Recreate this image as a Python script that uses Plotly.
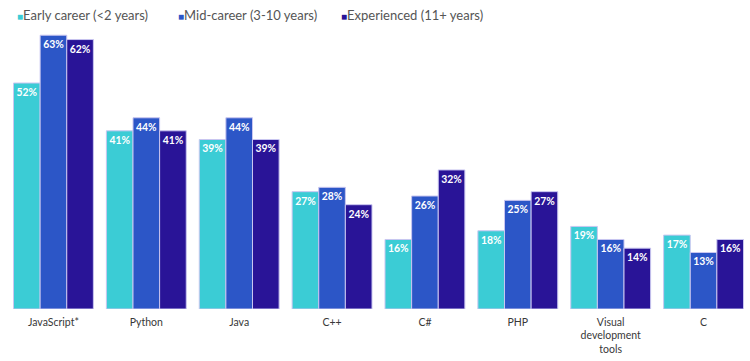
import plotly.graph_objects as go

categories = ["JavaScript*", "Python", "Java", "C++", "C#", "PHP", "Visual<br>development<br>tools", "C"]
early = [52, 41, 39, 27, 16, 18, 19, 17]
mid = [63, 44, 44, 28, 26, 25, 16, 13]
experienced = [62, 41, 39, 24, 32, 27, 14, 16]
series_names = ["Early career (<2 years)", "Mid-career (3-10 years)", "Experienced (11+ years)"]
colors = ["#3BCCD5", "#2C56C7", "#291497"]
legend_px = [15, 176, 339]

W, H = 750, 361
L, R = 7, 0

fig = go.Figure()
for name, vals, col in zip(series_names, [early, mid, experienced], colors):
    fig.add_trace(go.Bar(
        x=categories, y=vals, name=name,
        marker=dict(color=col, line=dict(color="#C9C6F0", width=1)),
        text=[f"{v}%" for v in vals], textposition="inside",
        insidetextanchor="end", textangle=0,
        textfont=dict(color="white", size=11.5, family="Lato", weight="bold"),
        cliponaxis=False,
        showlegend=False,
    ))

for name, col, px in zip(series_names, colors, legend_px):
    fig.add_annotation(
        xref="paper", yref="paper", x=(px - L) / (W - L - R), y=1.0,
        xanchor="left", yanchor="bottom", yshift=5, showarrow=False,
        text=f"<span style='color:{col};font-size:10px'>■</span>{name}",
        font=dict(family="Lato", size=13, color="#555555"),
    )

fig.update_layout(
    width=W, height=H,
    barmode="group", bargap=0.14, bargroupgap=0,
    margin=dict(l=L, r=R, t=30, b=52),
    plot_bgcolor="white", paper_bgcolor="white",
    font=dict(family="Lato", size=10.5, color="#333333"),
    uniformtext=dict(minsize=8, mode="show"),
)
fig.update_yaxes(range=[0, 64.2], visible=False)
fig.update_xaxes(showline=False, ticks="", ticklabelstandoff=5,
                 tickfont=dict(size=10.5, color="#383838"))

fig.write_html("out.html", config={"displayModeBar": False},
               post_script="document.body.style.margin='0';document.body.style.padding='0';")
